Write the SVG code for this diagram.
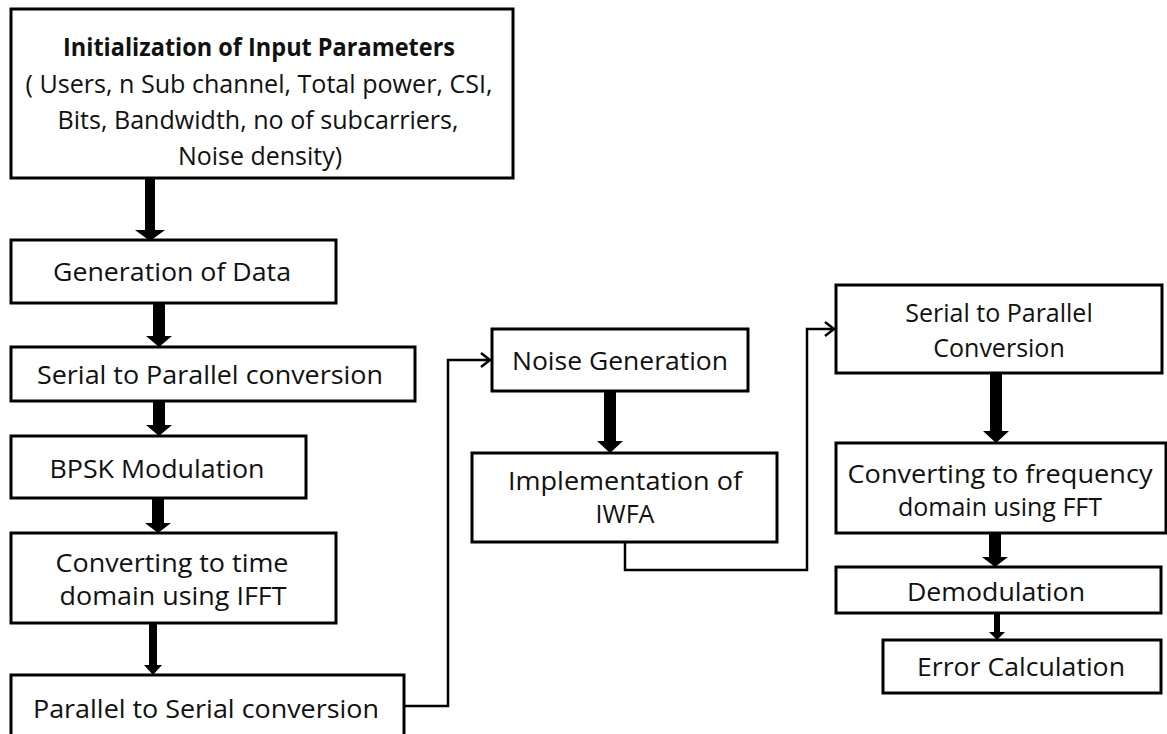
<svg xmlns="http://www.w3.org/2000/svg" width="1167" height="734" viewBox="0 0 1167 734">
<defs>
<style>
.box{fill:#fff;stroke:#000;stroke-width:3}
.t{font-family:"Open Sans","Noto Sans","Liberation Sans",sans-serif;font-size:25px;fill:#111;text-anchor:middle}
.b{font-weight:bold}
.thin{fill:none;stroke:#000;stroke-width:2.5}
.head{fill:none;stroke:#000;stroke-width:2.5}
.fat{fill:#000}
</style>
</defs>
<rect width="1167" height="734" fill="#fff"/>
<g id="connectors">
<path class="fat" d="M145,178 H155 V230 H165 L150,241 L135,230 H145 Z"/>
<path class="fat" d="M153,303 H165 V336 H172 L159,347 L146,336 H153 Z"/>
<path class="fat" d="M153,401 H165 V425 H172 L159,436 L146,425 H153 Z"/>
<path class="fat" d="M152,498 H164 V523 H171 L158,533 L145,523 H152 Z"/>
<path class="fat" d="M149,623 H157 V665 H162 L153,675 L144,665 H149 Z"/>
<path class="fat" d="M604,391 H616 V441 H623 L610,453 L597,441 H604 Z"/>
<path class="fat" d="M990,373 H1002 V431 H1009 L996,443 L983,431 H990 Z"/>
<path class="fat" d="M989,533 H1001 V557 H1008 L995,567 L982,557 H989 Z"/>
<path class="fat" d="M994,613 H1000 V632 H1005 L997,640 L989,632 H994 Z"/>
<polyline class="thin" points="404,706 448,706 448,360 490,360"/>
<polyline class="head" points="481,353 490,360 481,367"/>
<polyline class="thin" points="625,542 625,570 807,570 807,329 834,329"/>
<polyline class="head" points="825,322 834,329 825,336"/>
</g>
<g id="init">
<rect class="box" x="11" y="9" width="502" height="169"/>
<text class="t b" x="259" y="56" textLength="392" lengthAdjust="spacingAndGlyphs">Initialization of Input Parameters</text>
<text class="t" x="259" y="93" textLength="467" lengthAdjust="spacingAndGlyphs">( Users, n Sub channel, Total power, CSI,</text>
<text class="t" x="258" y="129" textLength="401" lengthAdjust="spacingAndGlyphs">Bits, Bandwidth, no of subcarriers,</text>
<text class="t" x="260" y="165" textLength="164" lengthAdjust="spacingAndGlyphs">Noise density)</text>
</g>
<g id="gen">
<rect class="box" x="11" y="240" width="325" height="63"/>
<text class="t" x="172" y="281" textLength="238" lengthAdjust="spacingAndGlyphs">Generation of Data</text>
</g>
<g id="s2p">
<rect class="box" x="11" y="347" width="404" height="54"/>
<text class="t" x="210" y="384" textLength="346" lengthAdjust="spacingAndGlyphs">Serial to Parallel conversion</text>
</g>
<g id="bpsk">
<rect class="box" x="11" y="436" width="295" height="62"/>
<text class="t" x="157" y="478" textLength="215" lengthAdjust="spacingAndGlyphs">BPSK Modulation</text>
</g>
<g id="ifft">
<rect class="box" x="11" y="533" width="325" height="90"/>
<text class="t" x="172" y="572" textLength="233" lengthAdjust="spacingAndGlyphs">Converting to time</text>
<text class="t" x="173" y="605" textLength="227" lengthAdjust="spacingAndGlyphs">domain using IFFT</text>
</g>
<g id="p2s">
<rect class="box" x="11" y="675" width="393" height="70"/>
<text class="t" x="206" y="718" textLength="346" lengthAdjust="spacingAndGlyphs">Parallel to Serial conversion</text>
</g>
<g id="noise">
<rect class="box" x="492" y="329" width="256" height="62"/>
<text class="t" x="620" y="370" textLength="216" lengthAdjust="spacingAndGlyphs">Noise Generation</text>
</g>
<g id="iwfa">
<rect class="box" x="472" y="453" width="305" height="89"/>
<text class="t" x="625" y="490" textLength="234" lengthAdjust="spacingAndGlyphs">Implementation of</text>
<text class="t" x="625" y="523">IWFA</text>
</g>
<g id="s2p2">
<rect class="box" x="836" y="285" width="326" height="88"/>
<text class="t" x="999" y="322">Serial to Parallel</text>
<text class="t" x="999" y="357">Conversion</text>
</g>
<g id="fft">
<rect class="box" x="836" y="443" width="330" height="90"/>
<text class="t" x="1000" y="483" textLength="305" lengthAdjust="spacingAndGlyphs">Converting to frequency</text>
<text class="t" x="1000" y="516">domain using FFT</text>
</g>
<g id="demod">
<rect class="box" x="836" y="567" width="325" height="46"/>
<text class="t" x="996" y="601" textLength="178" lengthAdjust="spacingAndGlyphs">Demodulation</text>
</g>
<g id="err">
<rect class="box" x="883" y="640" width="278" height="53"/>
<text class="t" x="1021" y="676" textLength="208" lengthAdjust="spacingAndGlyphs">Error Calculation</text>
</g>
</svg>
